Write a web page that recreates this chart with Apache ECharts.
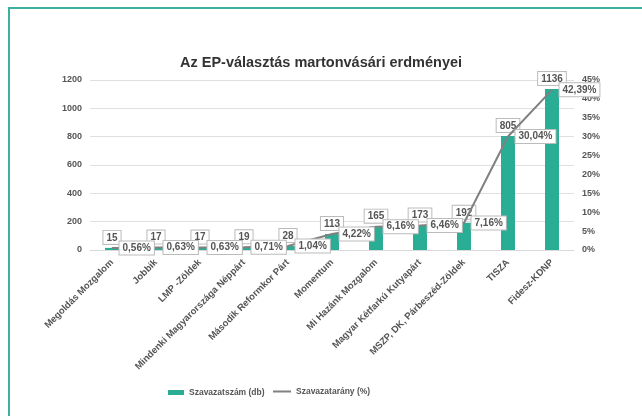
<!DOCTYPE html>
<html>
<head>
<meta charset="utf-8">
<script src="https://cdn.jsdelivr.net/npm/echarts@6/dist/echarts.min.js"></script>
<style>
  html, body { margin: 0; padding: 0; background: #fff; }
  #wrap { position: relative; width: 642px; height: 416px; }
  #frame { position: absolute; left: 8px; top: 7px; right: 0; bottom: 0;
           border-left: 2px solid #3bb0a0; border-top: 2px solid #3bb0a0; }
  #chart { position: absolute; left: 0; top: 0; width: 642px; height: 416px; }
</style>
</head>
<body>
<div id="wrap">
  <div id="frame"></div>
  <div id="chart"></div>
</div>
<script>
const parties = [
  "Megoldás Mozgalom", "Jobbik", "LMP -Zöldek", "Mindenki Magyarországa Néppárt",
  "Második Reformkor Párt", "Momentum", "Mi Hazánk Mozgalom",
  "Magyar Kétfarkú Kutyapárt", "MSZP, DK, Párbeszéd-Zöldek", "TISZA", "Fidesz-KDNP"
];
const votes = [15, 17, 17, 19, 28, 113, 165, 173, 192, 805, 1136];
const share = [0.56, 0.63, 0.63, 0.71, 1.04, 4.22, 6.16, 6.46, 7.16, 30.04, 42.39];

const fontFam = "Liberation Sans, Arial, sans-serif";
const boxLabel = {
  show: true,
  color: "#555",
  fontSize: 10,
  fontWeight: "bold",
  fontFamily: fontFam,
  backgroundColor: "#fff",
  borderColor: "#bbb",
  borderWidth: 1,
  padding: [2, 3, 1, 3]
};
const legendText = { fontSize: 8.5, fontWeight: "bold", color: "#555", fontFamily: fontFam };

const chart = echarts.init(document.getElementById("chart"));
chart.setOption({
  animation: false,
  title: {
    text: "Az EP-választás martonvásári erdményei",
    left: "center",
    top: 50,
    textStyle: { fontSize: 14.5, fontWeight: "bold", color: "#333", fontFamily: fontFam }
  },
  legend: [
    {
      data: [{ name: "Szavazatszám (db)", icon: "rect" }],
      left: 168, bottom: 19, padding: 0,
      itemWidth: 16, itemHeight: 5, itemGap: 2,
      textStyle: legendText
    },
    {
      data: [{ name: "Szavazatarány (%)", icon: "rect" }],
      left: 273, bottom: 20, padding: 0,
      itemWidth: 18, itemHeight: 2,
      textStyle: legendText
    }
  ],
  grid: { left: 90, right: 68, top: 80, bottom: 166 },
  xAxis: {
    type: "category",
    data: parties,
    axisTick: { show: false },
    axisLine: { lineStyle: { color: "#d9d9d9" } },
    axisLabel: {
      rotate: 45,
      interval: 0,
      margin: 11,
      fontSize: 9.5,
      fontWeight: "bold",
      color: "#555",
      fontFamily: fontFam,
      padding: [0, 0, 0, 0]
    }
  },
  yAxis: [
    {
      type: "value",
      min: 0, max: 1200, interval: 200,
      axisLabel: {
        formatter: v => String(v),
        fontSize: 9, fontWeight: "bold", color: "#555", fontFamily: fontFam, margin: 8
      },
      splitLine: { lineStyle: { color: "#e0e0e0" } }
    },
    {
      type: "value",
      min: 0, max: 45, interval: 5,
      position: "right",
      axisLabel: { formatter: "{value}%", fontSize: 9, fontWeight: "bold", color: "#555", fontFamily: fontFam, margin: 8 },
      splitLine: { show: false }
    }
  ],
  series: [
    {
      name: "Szavazatszám (db)",
      type: "bar",
      data: votes,
      barWidth: 14,
      itemStyle: { color: "#2aad95" },
      label: Object.assign({}, boxLabel, { position: "top", distance: 4 })
    },
    {
      name: "Szavazatarány (%)",
      type: "line",
      yAxisIndex: 1,
      data: share,
      symbol: "circle",
      symbolSize: 1,
      showSymbol: true,
      lineStyle: { color: "#808080", width: 2 },
      itemStyle: { color: "#808080" },
      label: Object.assign({}, boxLabel, {
        position: "right",
        distance: 7,
        formatter: p => p.value.toFixed(2).replace(".", ",") + "%"
      })
    }
  ]
});
</script>
</body>
</html>
